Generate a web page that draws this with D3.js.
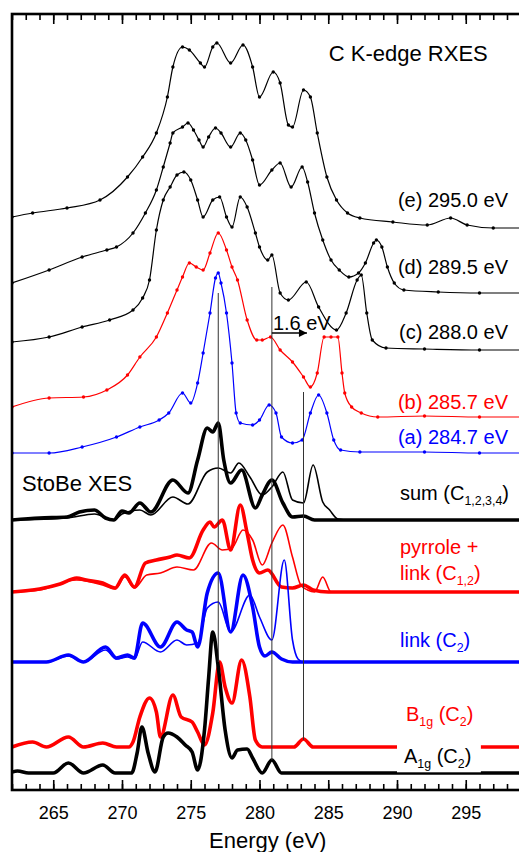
<!DOCTYPE html>
<html>
<head>
<meta charset="utf-8">
<script src="https://cdn.jsdelivr.net/npm/d3@7"></script>
<style>
  body { margin: 0; background: #fff; }
  svg { display: block; font-family: "Liberation Sans", Arial, sans-serif; }
</style>
</head>
<body>
<svg id="chart" width="519" height="852"></svg>
<script>
// ---- measured RXES spectra, [energy eV, intensity a.u. above baseline] ----
const rxesE = [[262.0,1.1],[263.5,1.5],[266.0,2.0],[268.4,2.8],[270.4,5.1],[271.5,7.1],[272.5,9.5],[273.3,13.1],[273.7,16.1],[274.4,18.1],[274.9,17.8],[275.7,16.5],[276.0,16.1],[276.6,18.1],[276.9,18.5],[277.9,16.5],[278.8,18.3],[279.5,16.1],[280.0,13.1],[281.0,15.6],[281.5,14.5],[282.1,10.3],[282.4,10.1],[283.2,13.8],[283.7,13.1],[284.2,9.5],[284.9,5.1],[285.6,2.8],[286.4,1.5],[287.3,1.0],[289.7,0.6],[292.2,0.3],[293.9,1.0],[295.1,0.3],[297.0,0],[299,0]];
const rxesD = [[262.0,1.0],[264.7,2.3],[267.1,3.6],[268.9,4.3],[269.6,4.6],[270.8,6.0],[271.7,8.0],[272.5,10.3],[273.0,12.6],[273.5,15.0],[273.7,16.0],[274.4,16.6],[274.8,17.0],[275.2,16.3],[275.6,15.3],[275.9,14.6],[276.3,15.6],[276.8,16.5],[277.2,16.0],[277.9,14.6],[278.6,16.0],[279.0,15.3],[279.5,13.3],[280.0,10.8],[280.9,12.3],[281.5,13.0],[282.3,10.6],[283.1,12.6],[283.5,11.1],[284.0,8.0],[284.6,5.3],[285.2,3.3],[285.8,2.3],[286.5,1.6],[287.2,2.0],[287.7,3.0],[288.3,5.0],[288.5,5.3],[288.9,4.6],[289.3,2.6],[289.8,1.0],[290.5,0.3],[293,0.1],[296,0],[299,0]];
const rxesC = [[262.0,0.8],[264.7,1.3],[267.1,2.3],[269.1,3.0],[270.8,4.0],[271.5,5.2],[272.0,7.0],[272.5,12.0],[273.0,15.0],[273.5,16.3],[274.0,17.5],[274.5,17.8],[275.0,17.0],[275.5,15.0],[275.9,13.3],[276.6,15.0],[277.1,15.3],[277.6,13.3],[278.0,12.3],[278.6,15.3],[279.1,14.3],[279.7,11.7],[280.0,10.3],[280.6,9.0],[280.9,9.5],[281.5,5.7],[282.1,5.0],[283.4,6.8],[284.3,4.3],[285.6,2.0],[286.3,3.7],[287.1,7.0],[287.4,7.5],[287.8,3.7],[288.2,1.0],[289.2,0.2],[292,0.1],[296,0],[299,0]];
const rxesB = [[262.0,1.0],[264.7,1.9],[267.2,2.0],[268.9,2.7],[270.4,4.2],[271.3,6.0],[272.5,8.0],[273.3,10.4],[274.0,12.7],[274.4,14.0],[274.9,15.4],[275.4,15.0],[275.9,14.7],[276.4,16.4],[277.0,18.4],[277.6,16.7],[278.0,15.0],[278.4,13.7],[279.1,9.7],[279.8,7.7],[280.2,7.7],[280.8,8.0],[281.5,6.7],[282.4,5.5],[283.2,4.0],[283.7,3.0],[284.2,4.4],[284.7,8.0],[285.2,8.0],[285.7,8.0],[286.0,4.4],[286.2,2.4],[286.7,1.0],[287.4,0.4],[288.6,0],[292,0.1],[296,0],[299,0]];
const rxesA = [[262.0,0],[264.7,0],[267.1,0.6],[269.6,1.6],[271.3,2.6],[272.7,3.3],[273.4,4.0],[274.4,6.0],[275.0,5.0],[275.5,7.0],[275.9,10.0],[276.4,14.0],[276.8,17.5],[277.0,18.0],[277.2,17.0],[277.6,14.0],[278.0,9.0],[278.3,4.0],[278.6,3.0],[279.5,2.8],[280.0,3.3],[280.7,4.8],[281.2,4.0],[281.6,1.6],[282.4,1.0],[283.1,1.3],[283.7,4.0],[284.3,5.8],[284.9,4.0],[285.4,1.3],[285.9,0.3],[287.3,0.1],[292,0.1],[296,0],[299,0]];

const rxesSeries = [rxesE, rxesD, rxesC, rxesB, rxesA];
const rxesLabels = ['(e) 295.0 eV', '(d) 289.5 eV', '(c) 288.0 eV', '(b) 285.7 eV', '(a) 284.7 eV'];
const rxesOffsets = [56.2, 49.7, 44.0, 37.3, 33.7];

// ---- StoBe XES calculations (thick / thin pairs) ----
const sumThick = [[262,0],[264,0.2],[266,0.3],[266.9,0.8],[268,1.0],[268.8,0.2],[269.4,0],[270,0.9],[270.5,0.7],[271.3,1.7],[272.1,0.8],[273.7,4.0],[274.8,2.7],[275.5,6.0],[276.2,9.2],[276.6,8.8],[277.0,9.7],[277.4,6.0],[277.9,3.7],[278.7,5.0],[279.7,1.2],[280.2,2.5],[280.9,4.0],[281.7,1.7],[282.4,0.3],[283.2,0.4],[284,0],[299,0]];
const sumThin = [[262,0],[266,0.2],[268,0.6],[269.4,0],[270,0.6],[271.3,1.0],[272.1,0.5],[273.7,2.3],[274.8,1.6],[276.2,4.8],[277.0,5.2],[277.9,4.7],[278.5,5.7],[279.3,4.3],[280.2,2.5],[280.9,3.3],[281.7,4.8],[282.4,2.0],[283.2,1.7],[283.9,5.5],[284.6,1.8],[285.1,1.0],[285.7,0.1],[286.5,0],[299,0]];
const pyrThick = [[262,0],[264,0.3],[265.5,0.8],[266.7,1.4],[267.4,1.2],[268.6,0.9],[269.5,0.4],[270.2,1.7],[270.9,0.5],[271.7,2.9],[272.5,3.2],[273.5,3.5],[274.0,3.7],[274.9,3.4],[275.9,6.2],[276.4,7.0],[276.7,6.5],[277.3,7.2],[277.9,4.2],[278.6,8.7],[279.1,5.9],[279.5,3.2],[280.0,1.9],[280.6,2.2],[281.6,0.5],[282.4,0.4],[283.2,0.7],[283.9,0.2],[285,0],[299,0]];
const pyrThin = [[262,0],[264,0.2],[266.7,1.2],[268.6,0.7],[269.5,0.3],[270.2,1.5],[270.9,0.4],[271.8,1.7],[272.8,1.9],[274.0,2.5],[275.2,2.2],[276.5,4.9],[277.3,4.2],[278.0,4.4],[278.8,6.2],[279.5,5.2],[280.2,2.7],[280.9,4.9],[281.7,6.7],[282.4,3.5],[283.0,0.7],[283.5,0.2],[284.0,0],[284.6,1.5],[285.2,0],[299,0]];
const linkThick = [[262,0],[264.5,0],[266.1,0.7],[267.2,0],[268.8,1.5],[269.6,0.4],[270.4,0.7],[270.9,0.4],[271.5,3.9],[272.8,1.5],[274.0,4.0],[274.7,3.2],[275.1,3.0],[275.5,1.5],[276.2,6.9],[277.0,8.9],[277.9,3.0],[278.8,8.7],[279.5,5.5],[280.0,1.5],[280.4,0.6],[280.9,1.0],[281.6,0.3],[282.4,0],[299,0]];
const linkThin = [[262,0],[264.5,0],[266.1,0.6],[267.2,0],[268.8,1.2],[269.6,0.3],[270.4,0.5],[270.9,0.3],[271.5,2.0],[272.8,1.0],[274.0,2.2],[274.7,1.7],[275.5,1.9],[276.2,5.4],[277.0,6.0],[277.9,3.0],[279.3,6.7],[280.0,4.5],[280.9,2.2],[281.8,10.2],[282.4,2.2],[282.8,0.3],[283.2,0],[299,0]];
const b1g = [[262,0],[263.5,0.5],[264.5,0],[266.1,1.0],[267.2,0],[268.6,0.4],[269.6,0],[270.5,0],[270.8,0.5],[271.3,3.0],[272.0,4.9],[272.5,3.5],[272.8,1.0],[273.7,5.2],[274.3,3.0],[275.1,2.5],[275.5,1.5],[276.0,0.2],[276.6,3.4],[277.1,8.5],[277.5,6.0],[278.0,4.4],[278.7,8.7],[279.3,5.0],[279.7,0.7],[280.2,0],[282.5,0],[283.2,0.8],[283.9,0],[299,0]];
const a1g = [[262,0.1],[262.4,0.2],[263.2,0],[265.0,0],[266.1,1.0],[267.2,0],[268.6,0.8],[269.5,0],[270.7,0],[271.1,2.0],[271.45,4.6],[271.9,2.0],[272.4,0.1],[273.0,3.6],[273.35,4.0],[274.0,3.6],[274.6,2.8],[275.1,2.1],[275.5,0.3],[276.0,4.3],[276.3,9.5],[276.6,14.1],[277.0,10.6],[277.5,4.3],[278.0,1.5],[278.4,2.3],[279.1,2.4],[279.5,1.5],[280.2,0],[280.9,1.3],[281.6,0],[283,0],[299,0]];

const calcOffsets = { sum: 27.0, pyr: 19.8, link: 12.8, b1g: 4.3, a1g: 1.7 };

// reference energies (eV) marked by vertical lines, with [top, bottom] intensity extent
const markerE = [277.0, 280.9, 283.2];
const markerSpan = [[49.7, 12.8], [50.3, 3.0], [39.8, 5.0]];
const shiftArrow = [280.9, 283.45];   // "1.6 eV" shift

const xTicks = [265, 270, 275, 280, 285, 290, 295];

// ---- layout ----
const FONT = '"Liberation Sans", Arial, sans-serif';
const margin = { left: 12, top: 14, bottom: 62 };
const W = 519, H = 852;
const plotW = 508.75, plotH = H - margin.top - margin.bottom;

const x = d3.scaleLinear().domain([262, 299]).range([margin.left, margin.left + plotW]);
const y = d3.scaleLinear().domain([0, 77.6]).range([H - margin.bottom, margin.top]);

const svg = d3.select('#chart');

svg.append('defs').append('clipPath').attr('id', 'plot-clip')
  .append('rect')
  .attr('x', margin.left).attr('y', margin.top)
  .attr('width', plotW).attr('height', plotH);

const plot = svg.append('g').attr('clip-path', 'url(#plot-clip)');

function lineAt(offset) {
  return d3.line()
    .x(d => x(d[0]))
    .y(d => y(offset + d[1]))
    .curve(d3.curveMonotoneX);
}

// experimental spectra: line + dots
const rxesColors = ['#000', '#000', '#000', '#ff0000', '#0000ff'];
rxesSeries.forEach((data, i) => {
  const g = plot.append('g').attr('class', 'rxes');
  g.append('path')
    .attr('d', lineAt(rxesOffsets[i])(data))
    .attr('fill', 'none')
    .attr('stroke', rxesColors[i])
    .attr('stroke-width', 1.2);
  g.selectAll('circle')
    .data(data).enter()
    .append('circle')
    .attr('cx', d => x(d[0]))
    .attr('cy', d => y(rxesOffsets[i] + d[1]))
    .attr('r', 1.7)
    .attr('fill', rxesColors[i]);
});

// calculated spectra
const calc = [
  { data: sumThin,   off: calcOffsets.sum,  color: '#000',    w: 1.6 },
  { data: sumThick,  off: calcOffsets.sum,  color: '#000',    w: 3.6 },
  { data: pyrThin,   off: calcOffsets.pyr,  color: '#ff0000', w: 1.6 },
  { data: pyrThick,  off: calcOffsets.pyr,  color: '#ff0000', w: 3.6 },
  { data: linkThin,  off: calcOffsets.link, color: '#0000ff', w: 1.6 },
  { data: linkThick, off: calcOffsets.link, color: '#0000ff', w: 3.6 },
  { data: b1g,       off: calcOffsets.b1g,  color: '#ff0000', w: 3.6 },
  { data: a1g,       off: calcOffsets.a1g,  color: '#000',    w: 3.6 }
];
plot.selectAll('path.calc')
  .data(calc).enter()
  .append('path')
  .attr('class', 'calc')
  .attr('d', d => lineAt(d.off)(d.data))
  .attr('fill', 'none')
  .attr('stroke', d => d.color)
  .attr('stroke-width', d => d.w)
  .attr('stroke-linejoin', 'round');

// vertical reference lines
plot.selectAll('line.marker')
  .data(markerE).enter()
  .append('line')
  .attr('class', 'marker')
  .attr('x1', d => x(d)).attr('x2', d => x(d))
  .attr('y1', (d, i) => y(markerSpan[i][0]))
  .attr('y2', (d, i) => y(markerSpan[i][1]))
  .attr('stroke', '#333')
  .attr('stroke-width', 1);

// shift arrow
svg.append('defs').append('marker')
  .attr('id', 'arrowhead')
  .attr('viewBox', '0 0 10 10')
  .attr('refX', 10).attr('refY', 5)
  .attr('markerWidth', 14).attr('markerHeight', 8)
  .attr('markerUnits', 'userSpaceOnUse')
  .attr('orient', 'auto')
  .append('path').attr('d', 'M0,0 L10,5 L0,10 Z').attr('fill', '#000');

svg.append('line')
  .attr('x1', x(shiftArrow[0])).attr('x2', x(shiftArrow[1]))
  .attr('y1', y(45.7)).attr('y2', y(45.7))
  .attr('stroke', '#000').attr('stroke-width', 1.6)
  .attr('marker-end', 'url(#arrowhead)');

svg.append('text')
  .attr('x', x(shiftArrow[0]) + 1).attr('y', y(46.0))
  .attr('font-size', 20).attr('fill', '#000')
  .text('1.6 eV');

// white box behind A1g label
svg.append('rect')
  .attr('x', x(290)).attr('width', x(296.1) - x(290))
  .attr('y', 738).attr('height', 34.3)
  .attr('fill', '#fff');

// labels: parts are [text, isSubscript]
function label(px, py, parts, color, size, anchor) {
  const t = svg.append('text')
    .attr('x', px).attr('y', py)
    .attr('font-size', size)
    .attr('fill', color)
    .attr('text-anchor', anchor || 'start');
  let sub = false;
  parts.forEach(p => {
    const s = t.append('tspan').text(p[0]);
    if (p[1] && !sub) { s.attr('dy', 5).attr('font-size', size * 0.62); sub = true; }
    else if (p[1]) { s.attr('font-size', size * 0.62); }
    else if (!p[1] && sub) { s.attr('dy', -5); sub = false; }
  });
  return t;
}

label(x(296.6), 61, [['C K-edge RXES']], '#000', 22, 'end');
const rxesLabelY = [207, 274, 339, 409, 444];
rxesLabels.forEach((t, i) => label(508, rxesLabelY[i], [[t]], rxesColors[i], 20, 'end'));

label(22, 491, [['StoBe XES']], '#000', 22);
label(400, 500, [['sum (C'], ['1,2,3,4', true], [')']], '#000', 20);
label(400, 554, [['pyrrole +']], '#ff0000', 20);
label(400, 580, [['link (C'], ['1,2', true], [')']], '#ff0000', 20);
label(400, 647, [['link (C'], ['2', true], [')']], '#0000ff', 20);
label(406, 721, [['B'], ['1g', true], [' (C'], ['2', true], [')']], '#ff0000', 20);
label(404, 763, [['A'], ['1g', true], [' (C'], ['2', true], [')']], '#000', 20);

// ---- frame and axes ----
const axisBottom = d3.axisBottom(x).tickValues(xTicks).tickSize(-10).tickPadding(16).tickFormat(d3.format('d'));
const axisBottomMinor = d3.axisBottom(x).tickValues(d3.range(262, 300)).tickSize(-6).tickFormat('');
const axisTop = d3.axisTop(x).tickValues(xTicks).tickSize(-10).tickFormat('');
const axisTopMinor = d3.axisTop(x).tickValues(d3.range(262, 300)).tickSize(-6).tickFormat('');

function styleAxis(g) {
  g.select('.domain').remove();
  g.selectAll('.tick line').attr('stroke', '#000').attr('stroke-width', 1.6);
  g.selectAll('.tick text').attr('font-size', 18).attr('fill', '#000')
    .attr('font-family', FONT);
}

svg.append('g').attr('transform', `translate(0,${H - margin.bottom})`).call(axisBottomMinor).call(styleAxis);
svg.append('g').attr('transform', `translate(0,${H - margin.bottom})`).call(axisBottom).call(styleAxis);
svg.append('g').attr('transform', `translate(0,${margin.top})`).call(axisTopMinor).call(styleAxis);
svg.append('g').attr('transform', `translate(0,${margin.top})`).call(axisTop).call(styleAxis);

svg.append('rect')
  .attr('x', margin.left).attr('y', margin.top)
  .attr('width', plotW).attr('height', plotH)
  .attr('fill', 'none').attr('stroke', '#000').attr('stroke-width', 2.6);

svg.append('text')
  .attr('x', x(280.6)).attr('y', 848)
  .attr('text-anchor', 'middle')
  .attr('font-size', 22)
  .text('Energy (eV)');
</script>
</body>
</html>
